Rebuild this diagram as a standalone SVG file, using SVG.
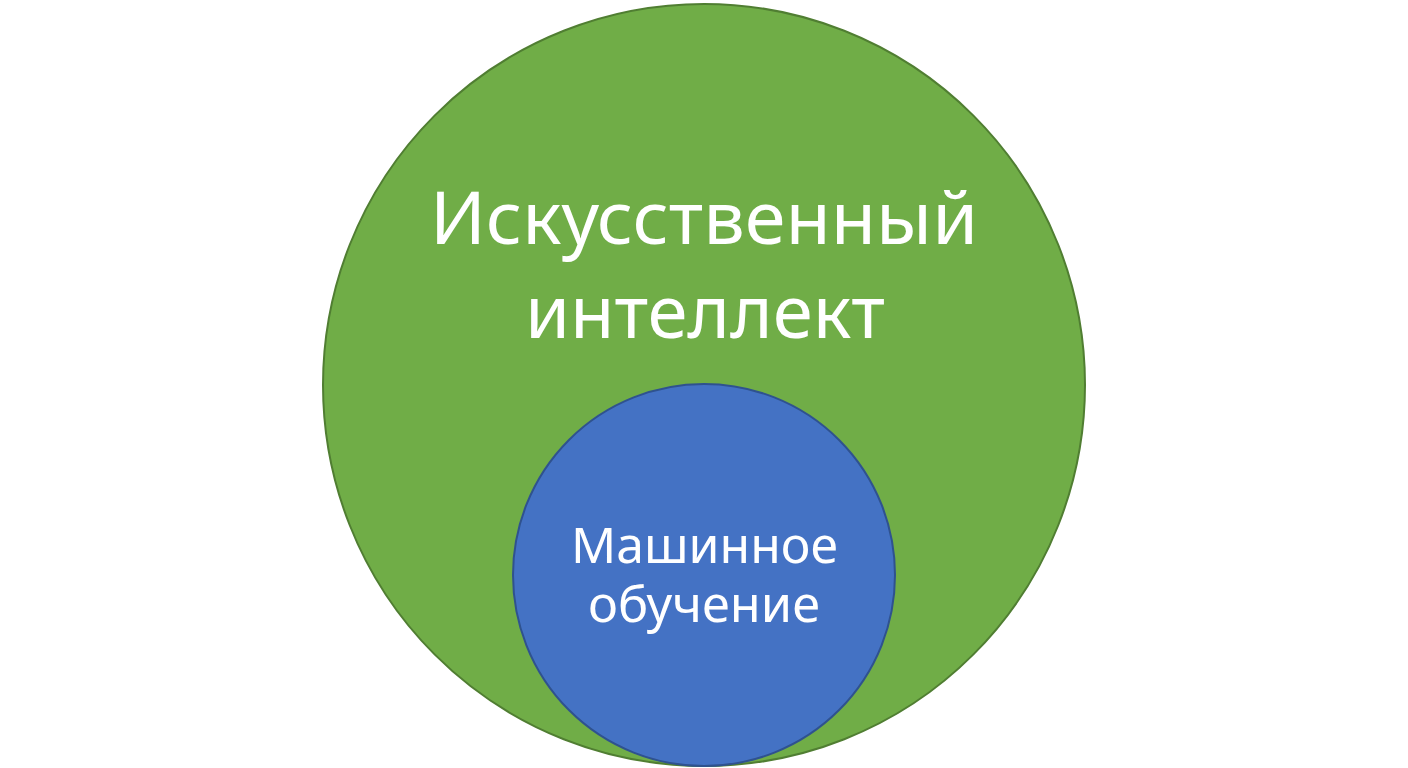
<svg xmlns="http://www.w3.org/2000/svg" width="1408" height="768" viewBox="0 0 1408 768">
  <style>
    .lbl { font-family: "Noto Sans", "Open Sans", "Liberation Sans", sans-serif; fill: #FFFFFF; text-anchor: middle; }
    .big { font-size: 73px; }
    .small { font-size: 50px; }
  </style>
  <rect x="0" y="0" width="1408" height="768" fill="#FFFFFF"/>
  <g id="ai">
    <circle cx="704" cy="385" r="381" fill="#70AD47" stroke="#507E32" stroke-width="2"/>
    <text class="lbl big" x="704" y="244" textLength="548" lengthAdjust="spacingAndGlyphs">Искусственный</text>
    <text class="lbl big" x="705" y="338" textLength="360" lengthAdjust="spacingAndGlyphs">интеллект</text>
  </g>
  <g id="ml">
    <circle cx="704" cy="575" r="191" fill="#4472C4" stroke="#2F528F" stroke-width="2"/>
    <text class="lbl small" x="704.5" y="563" textLength="267" lengthAdjust="spacingAndGlyphs">Машинное</text>
    <text class="lbl small" x="704" y="622" textLength="232" lengthAdjust="spacingAndGlyphs">обучение</text>
  </g>
  <g id="connectors"></g>
</svg>
